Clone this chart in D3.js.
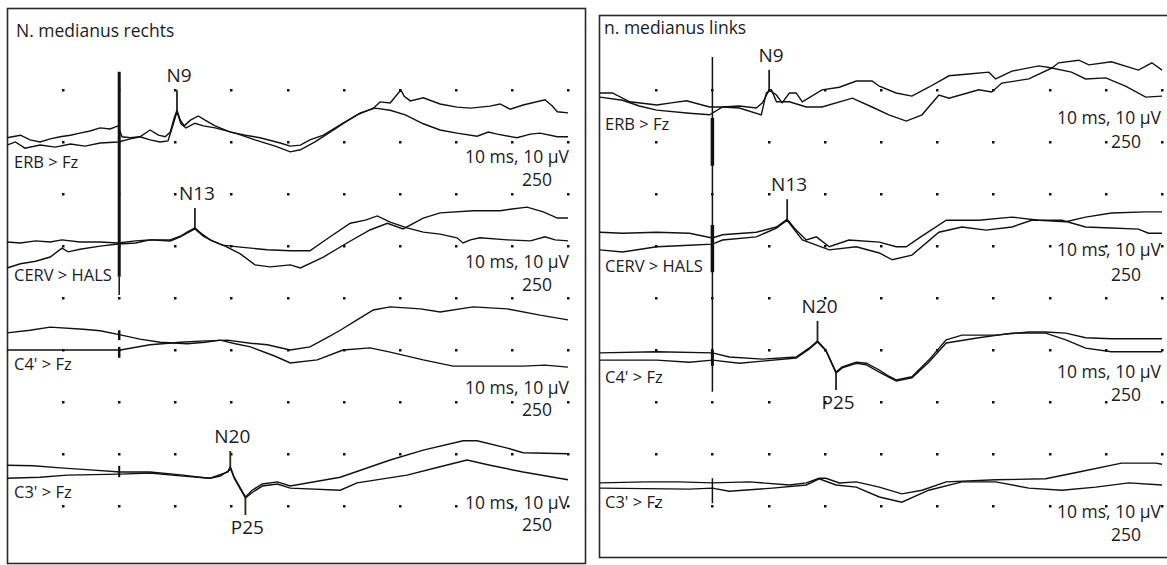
<!DOCTYPE html>
<html lang="de">
<head>
<meta charset="UTF-8"/>
<title>SEP N. medianus rechts / links</title>
<style>
  body { margin: 0; background: #fff; }
  text { font-family: "Open Sans", sans-serif; fill: #1c1c24; }
</style>
<script src="https://d3js.org/d3.v7.min.js"></script>
</head>
<body>
<script>

// channel names, titles, grid
var channels = ["ERB > Fz", "CERV > HALS", "C4' > Fz", "C3' > Fz"];
var titles = ["N. medianus rechts", "n. medianus links"];
var gridTimes = [-10, 0, 10, 20, 30, 40, 50, 60, 70, 80];   // ms
var gridRows = [0, 1, 2, 3, 4, 5, 6, 7, 8];
var scaleText = "10 ms, 10 µV";
var sweepText = "250";
var stimulusTime = 0;

// traces: [ms, µV] relative to each channel baseline
// --- left (rechts)
var leftErbA = [[-20,1.0],[-17.6,1.5],[-15.9,0.6],[-14.1,0.2],[-12.3,0.8],[-10.5,1.2],[-8.7,1.5],[-7.0,1.9],[-5.2,2.3],[-3.4,2.9],[-1.6,2.7],[-0.2,3.3],[0.5,1.2],[2.0,1.0],[3.7,1.2],[5.5,2.5],[7.0,1.5],[8.2,1.2],[9.1,2.1],[9.8,4.8],[10.3,6.3],[10.9,4.4],[11.6,3.3],[12.7,4.4],[14.1,5.2],[15.3,4.4],[17.1,3.3],[19.8,2.1],[22.5,1.5],[25.1,1.0],[28.7,0],[30.5,-0.6],[32.3,-0.4],[34.0,0.6],[36.4,1.5],[39.4,3.5],[42.4,5.4],[45.3,6.7],[46.5,7.9],[48.3,7.7],[50.2,10.2],[50.8,9.0],[51.9,8.1],[54.2,8.7],[57.2,7.5],[60.2,6.9],[62.6,6.7],[66.1,7.1],[67.9,7.5],[69.7,6.5],[72.0,7.3],[75.9,8.3],[77.2,7.1],[78.1,6.0],[80,5.8]];
var leftErbB = [[-20,-0.4],[-18.5,0.2],[-16.8,-1.0],[-14.1,-0.4],[-11.4,-0.8],[-8.7,-0.2],[-6.1,-0.6],[-3.4,0],[-0.2,0.2],[2.0,0.8],[3.7,1.2],[5.5,0.6],[7.3,0.2],[8.7,0.4],[9.6,3.5],[10.3,6.0],[11.0,3.7],[11.9,2.9],[13.5,3.8],[15.0,3.3],[17.1,2.9],[20.7,1.9],[24.2,0.6],[27.8,-0.6],[30.5,-1.7],[32.3,-1.3],[34.9,0.2],[37.6,2.1],[40.3,4.0],[43.0,5.8],[45.6,6.7],[48.3,6.3],[51.0,5.4],[54.2,3.7],[57.2,2.5],[60.2,1.9],[63.8,1.3],[65.8,2.1],[67.4,1.7],[70.9,1.0],[73.3,1.7],[75.0,1.9],[78.1,1.2],[80,1.2]];
var leftCervA = [[-20,0.2],[-17.6,0],[-14.9,0.4],[-12.3,0.2],[-10.2,0.6],[-7.0,0.2],[-3.4,0.2],[-0.2,0],[2.9,0.4],[5.5,0.6],[9.1,0.6],[10.9,1.3],[12.1,2.1],[13.5,2.9],[14.8,1.7],[16.2,0.6],[18.4,-0.4],[21.6,-0.8],[26.4,-1.3],[30.5,-1.5],[34.0,-1.5],[37.6,1.2],[41.2,3.8],[43.9,4.4],[46.0,5.2],[48.3,4.0],[51.3,2.9],[54.2,2.1],[57.2,1.7],[60.2,1.0],[61.3,0],[62.6,0.6],[64.3,1.0],[69.2,0.6],[73.3,0.4],[75.9,1.2],[77.7,0.6],[80,0.4]];
var leftCervB = [[-20,-4.8],[-17.6,-4.0],[-14.9,-3.5],[-12.3,-2.7],[-10.2,-1.0],[-9.1,-1.7],[-7.0,-1.2],[-3.4,-0.6],[-0.2,-0.2],[2.9,0],[5.5,0.6],[9.1,0.4],[10.9,1.2],[12.1,1.9],[13.5,2.7],[15.0,1.3],[16.6,0.4],[18.9,-0.6],[21.6,-2.1],[24.2,-4.2],[26.9,-4.6],[30.5,-4.2],[32.3,-4.8],[36.4,-2.7],[40.6,0],[44.7,2.5],[47.8,3.8],[50.6,2.7],[54.2,4.8],[57.2,5.8],[63.1,6.2],[67.9,6.2],[69.7,6.5],[72.7,6.9],[75.6,6.0],[78.1,4.8],[80,4.8]];
var leftC4A = [[-20,3.3],[-15.9,3.8],[-12.3,4.4],[-6.4,4.0],[-3.4,3.7],[0.2,2.9],[3.7,2.1],[7.3,1.5],[12.1,1.2],[15.3,1.5],[18.0,1.9],[20.7,1.2],[23.4,0.6],[27.8,-1.2],[30.5,-2.5],[35.3,-1.9],[39.9,0],[44.7,0.4],[48.3,-0.4],[54.2,-1.9],[59.5,-3.1],[66.1,-3.1],[72.0,-3.1],[75.9,-2.9],[80,-3.3]];
var leftC4B = [[-20,0],[-12.3,0],[-3.4,0],[0.2,0],[5.5,1.0],[10.9,1.5],[14.4,1.7],[19.3,1.9],[23.4,1.3],[26.4,1.0],[30.5,0],[34.0,0.6],[36.9,2.3],[39.4,3.8],[42.4,5.8],[45.3,7.7],[48.3,8.3],[53.7,7.9],[57.2,7.3],[63.1,8.3],[69.2,7.9],[75.0,6.7],[80,5.8]];
var leftC3A = [[-20,1.3],[-15.3,1.2],[-10.5,0.8],[-5.2,0.4],[0.2,0],[5.5,0],[11.4,-0.6],[14.4,-1.0],[16.2,-1.2],[18.0,-0.8],[19.4,0.2],[19.8,1.0],[20.5,-1.0],[21.6,-3.1],[22.5,-4.8],[23.7,-3.5],[25.5,-2.3],[28.2,-1.9],[30.5,-2.7],[39.4,-1.0],[48.3,2.3],[54.2,4.2],[61.3,6.0],[63.8,6.0],[69.2,4.6],[72.0,3.7],[80,3.5]];
var leftC3B = [[-20,-1.2],[-14.1,-1.0],[-9.3,-0.6],[0.2,-0.4],[5.5,-0.2],[11.4,-0.8],[16.2,-1.2],[19.4,0],[19.8,0.8],[20.5,-1.2],[21.6,-3.3],[22.5,-5.0],[23.9,-3.8],[25.5,-2.7],[28.2,-2.3],[30.5,-3.1],[39.4,-3.5],[42.4,-2.1],[51.3,-0.6],[57.2,1.0],[62.0,2.3],[66.1,1.3],[72.0,0],[80,-1.5]];

// --- right (links)
var rightErbA = [[-20,2.7],[-17.8,2.7],[-14.7,1.0],[-9.9,0.4],[-7.3,0.8],[-4.6,1.2],[-0.5,0],[1.8,0],[4.8,0.2],[7.8,-0.2],[8.9,0.8],[10.1,3.3],[11.4,2.3],[12.4,0.8],[13.7,2.7],[14.9,2.7],[16.0,1.0],[19.5,3.3],[22.6,3.8],[25.6,5.0],[28.4,5.0],[29.7,4.0],[32.7,2.7],[35.5,2.1],[38.5,3.8],[42.1,6.0],[45.1,6.3],[49.2,6.7],[50.4,5.4],[53.3,6.9],[58.1,7.9],[60.4,7.5],[61.6,8.5],[65.2,9.0],[67.0,8.1],[71.0,8.7],[75.8,7.1],[78.2,8.5],[80,7.1]];
var rightErbB = [[-20,1.9],[-16.0,1.3],[-13.0,0.2],[-9.9,-0.6],[-4.1,-1.2],[-0.5,-1.5],[1.8,0],[4.8,-0.2],[8.7,-1.5],[9.6,2.7],[10.5,3.3],[11.4,1.0],[13.7,1.0],[16.7,0],[19.5,0],[24.9,1.7],[28.4,0],[31.4,-1.5],[34.5,-2.7],[37.3,-1.5],[40.3,2.3],[42.1,1.7],[47.4,3.3],[49.7,2.9],[51.5,4.6],[56.3,5.4],[60.4,7.5],[63.9,6.7],[66.4,5.4],[70.0,5.6],[73.5,4.0],[77.1,1.9],[80,2.1]];
var rightCervA = [[-20,1.5],[-16.0,1.3],[-9.9,1.5],[-4.1,1.3],[0,0.4],[1.8,1.0],[7.8,1.5],[11.4,2.5],[13.3,4.0],[14.9,1.9],[16.7,0],[18.5,0.6],[20.8,-1.3],[24.3,0],[29.7,-0.4],[32.7,-1.3],[34.5,-1.3],[36.8,0.4],[41.6,3.8],[47.4,3.8],[53.3,4.4],[58.1,3.8],[62.9,3.5],[66.4,4.4],[71.0,5.2],[77.1,5.4],[80,5.4]];
var rightCervB = [[-20,-1.9],[-16.0,-2.3],[-9.9,-1.3],[-4.1,-1.0],[0,-0.8],[1.8,0],[7.8,0.6],[11.4,2.3],[13.3,3.8],[16.0,0],[20.8,-1.9],[25.6,-1.3],[29.7,-2.5],[32.0,-3.8],[35.5,-2.9],[40.3,1.5],[44.4,2.5],[48.7,1.9],[53.3,2.5],[56.8,3.8],[62.2,3.8],[66.4,2.5],[71.0,2.3],[75.8,2.1],[77.6,1.3],[80,1.3]];
var rightC4A = [[-20,0.8],[-9.9,1.0],[0,0.8],[3.0,0],[8.9,-0.4],[14.9,0],[17.2,1.7],[18.7,3.1],[20.2,1.3],[22.0,-2.9],[23.1,-1.9],[25.6,-1.0],[27.4,-1.2],[29.7,-2.5],[31.4,-3.7],[32.7,-4.4],[35.5,-3.8],[38.5,-0.6],[41.6,3.3],[44.4,4.2],[50.4,4.2],[56.3,4.8],[59.3,4.8],[62.9,4.6],[66.4,3.7],[71.0,3.5],[80,3.5]];
var rightC4B = [[-20,-0.6],[-9.9,-0.6],[-4.1,-1.0],[0,-0.6],[4.8,-1.2],[8.9,-0.8],[14.9,-0.2],[17.2,1.5],[18.7,2.9],[20.2,1.2],[22.0,-3.1],[23.1,-2.1],[25.6,-1.2],[27.4,-1.5],[29.7,-2.9],[32.7,-4.6],[35.5,-4.0],[38.5,-1.0],[41.6,2.7],[47.4,3.7],[53.3,4.6],[59.3,4.6],[62.9,3.3],[66.4,1.7],[71.0,1.0],[80,1.0]];
var rightC3A = [[-20,0.4],[-11.7,0.6],[-5.9,0.6],[0,0.4],[6.6,0.6],[13.7,0],[16.7,0.4],[19.0,1.3],[20.2,1.3],[22.6,0.4],[25.6,0.6],[29.7,-0.4],[33.7,-1.7],[37.3,-1.0],[41.6,0.6],[50.4,1.0],[59.3,1.2],[65.2,2.5],[72.8,4.2],[78.9,4.2],[80,4.0]];
var rightC3B = [[-20,-0.6],[-4.1,-0.8],[0,-0.6],[3.0,-1.2],[10.7,-0.6],[16.7,0],[19.0,1.2],[22.0,0],[25.6,-0.4],[29.7,-2.3],[33.7,-3.3],[38.5,-1.0],[44.4,0.6],[50.4,0.6],[56.3,-0.6],[62.2,-1.0],[68.2,-0.4],[74.1,0.4],[80,0]];

// peaks: [label, channel, ms, µV, direction]
var leftPeaks = [["N9", 0, 10.3, 6.3, "up"], ["N13", 1, 13.5, 2.9, "up"], ["N20", 3, 19.8, 0.2, "up"], ["P25", 3, 22.5, -4.8, "down"]];
var rightPeaks = [["N9", 0, 10.1, 3.3, "up"], ["N13", 1, 13.3, 4.0, "up"], ["N20", 2, 18.7, 3.1, "up"], ["P25", 2, 22.0, -2.9, "down"]];

// stimulus artefact: [channel top, µV top, channel bottom, µV bottom]
var leftStim = [[0, 13.7, 1, -6.5], [1, -6.5, 1, -10], [2, 3.8, 2, 1.9], [2, 0.6, 2, -1.5], [3, 1.2, 3, -1.0]];
var rightStim = [[0, 9.6, 2, -6.7], [0, -2.1, 0, -11.3], [1, 2.9, 1, -6.2], [2, 1.3, 2, -1.7], [3, 1.3, 3, -3.5]];

// layout
var panels = [
  { title: titles[0], x0: 7, x1: 568, base: [143, 243, 350, 472],
    frame: [7.5, 8.5, 578, 555], titleXY: [16, 37],
    chanX: 14, chanY: [168, 281, 370, 498],
    scaleX: 569, scaleY: [163, 268, 394, 509],
    sweepX: 537, sweepY: [186, 291, 416, 531],
    traces: [[leftErbA, leftErbB], [leftCervA, leftCervB], [leftC4A, leftC4B], [leftC3A, leftC3B]],
    peaks: leftPeaks, stim: leftStim, stimW: [3, 1.5, 2.5, 2.5, 2] },
  { title: titles[1], x0: 600, x1: 1162, base: [107, 240, 357, 485],
    frame: [599.5, 15.5, 620, 542], titleXY: [604, 34],
    chanX: 605, chanY: [130, 272, 383, 508],
    scaleX: 1161, scaleY: [124, 256, 378, 518],
    sweepX: 1126, sweepY: [148, 281, 401, 541],
    traces: [[rightErbA, rightErbB], [rightCervA, rightCervB], [rightC4A, rightC4B], [rightC3A, rightC3B]],
    peaks: rightPeaks, stim: rightStim, stimW: [1.5, 3.5, 3.5, 3, 1.5] }
];

var svg = d3.select("body").append("svg")
  .attr("width", 1167)
  .attr("height", 565);

var gridY = d3.scaleLinear().domain([0, 8]).range([90, 506]);

panels.forEach(function(p) {
  var g = svg.append("g");

  var xScale = d3.scaleLinear().domain([-20, 80]).range([p.x0, p.x1]);
  var yScales = p.base.map(function(b) {
    return d3.scaleLinear().domain([0, 10]).range([b, b - 52]);
  });

  // frame
  g.append("rect")
    .attr("x", p.frame[0]).attr("y", p.frame[1])
    .attr("width", p.frame[2]).attr("height", p.frame[3])
    .attr("fill", "none")
    .attr("stroke", "#2a2a2a")
    .attr("stroke-width", 1.6);

  // grid dots
  gridRows.forEach(function(r) {
    g.selectAll(null)
      .data(gridTimes)
      .enter()
      .append("rect")
      .attr("x", function(d) { return Math.round(xScale(d)) - 1; })
      .attr("y", Math.round(gridY(r)) - 1)
      .attr("width", 2.5)
      .attr("height", 2.5)
      .attr("fill", "#111");
  });

  // traces
  p.traces.forEach(function(pair, c) {
    var line = d3.line()
      .x(function(d) { return xScale(d[0]); })
      .y(function(d) { return yScales[c](d[1]); });
    g.selectAll(null)
      .data(pair)
      .enter()
      .append("path")
      .attr("d", line)
      .attr("fill", "none")
      .attr("stroke", "#111")
      .attr("stroke-width", 1.4);
  });

  // stimulus artefact
  g.selectAll(null)
    .data(p.stim)
    .enter()
    .append("line")
    .attr("x1", xScale(stimulusTime))
    .attr("x2", xScale(stimulusTime))
    .attr("y1", function(d) { return yScales[d[0]](d[1]); })
    .attr("y2", function(d) { return yScales[d[2]](d[3]); })
    .attr("stroke", "#111")
    .attr("stroke-width", function(d, i) { return p.stimW[i]; });

  // peak markers
  p.peaks.forEach(function(pk) {
    var px = xScale(pk[2]);
    var py = yScales[pk[1]](pk[3]);
    var up = pk[4] === "up";
    var yEnd = up ? py - 20 : py + 18;
    g.append("line")
      .attr("x1", px).attr("x2", px)
      .attr("y1", py).attr("y2", yEnd)
      .attr("stroke", "#2b2218")
      .attr("stroke-width", 1.8);
    g.append("text")
      .attr("x", px + 2)
      .attr("y", up ? yEnd - 8 : yEnd + 19)
      .attr("text-anchor", "middle")
      .attr("font-size", "19px")
      .text(pk[0]);
  });

  // title
  g.append("text")
    .attr("x", p.titleXY[0]).attr("y", p.titleXY[1])
    .attr("font-size", "17.5px")
    .text(p.title);

  // channel labels + scale text
  channels.forEach(function(name, c) {
    g.append("text")
      .attr("x", p.chanX).attr("y", p.chanY[c])
      .attr("font-size", "16.5px")
      .text(name);
    g.append("text")
      .attr("x", p.scaleX).attr("y", p.scaleY[c])
      .attr("text-anchor", "end")
      .attr("font-size", "17.5px")
      .text(scaleText);
    g.append("text")
      .attr("x", p.sweepX).attr("y", p.sweepY[c])
      .attr("text-anchor", "middle")
      .attr("font-size", "17.5px")
      .text(sweepText);
  });
});

</script>
</body>
</html>
